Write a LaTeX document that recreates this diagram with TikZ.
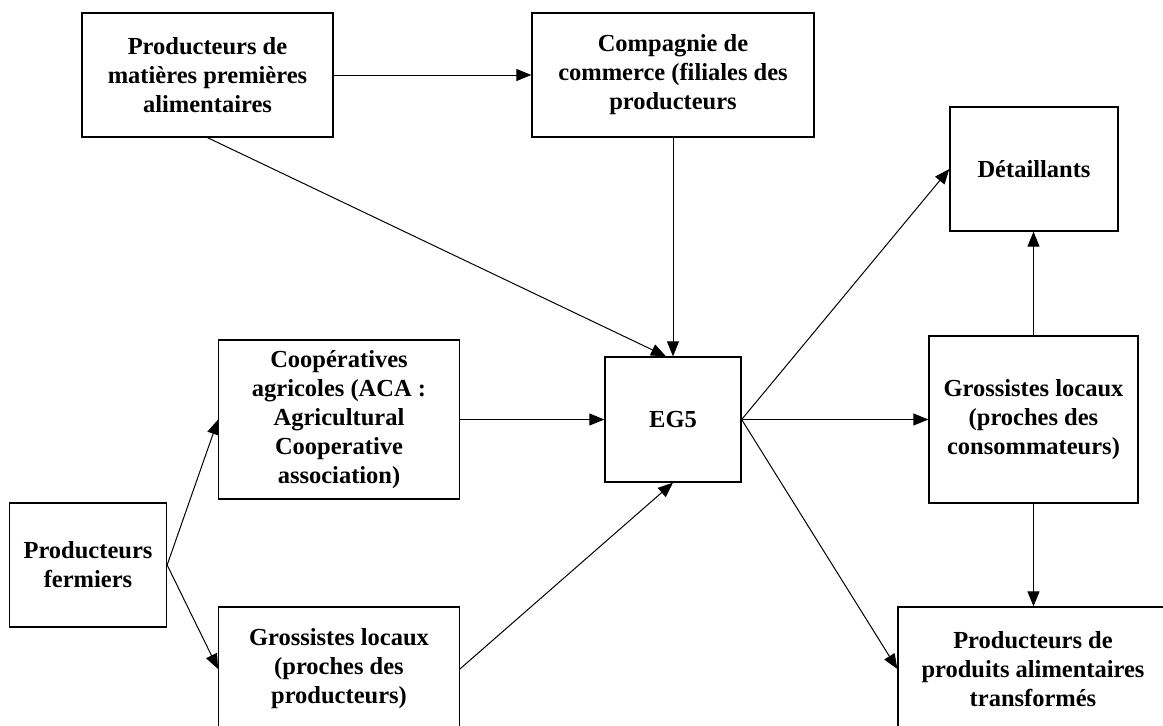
\documentclass[tikz,border=0pt]{standalone}
\usepackage{fontspec}
\setmainfont{Liberation Serif}
\usetikzlibrary{arrows.meta}
\begin{document}
\begin{tikzpicture}[
    x=1pt, y=-1pt,
    >={Triangle[length=15pt,width=12pt]},
    line width=1pt,
    every node/.style={rectangle, draw, line width=1.3pt, align=center, inner sep=0pt,
                       font=\fontsize{24.5}{29}\selectfont\bfseries}
]
  \useasboundingbox (0,0) rectangle (1163,726);
  % boxes (placed to match the screenshot)
  \node[minimum width=251pt, minimum height=124pt]   (M)    at (207.5,75)   {Producteurs de\\matières premières\\alimentaires};
  \node[minimum width=282pt, minimum height=124pt]   (C)    at (673,75)     {Compagnie de\\commerce (filiales des\\producteurs};
  \node[minimum width=168pt, minimum height=124pt]   (D)    at (1034,169)   {Détaillants};
  \node[minimum width=240.5pt, minimum height=159pt] (Coop) at (339,419.5)  {Coopératives\\agricoles (ACA :\\Agricultural\\Cooperative\\association)};
  \node[minimum width=136pt, minimum height=125pt]   (E)    at (673,419.5)  {EG5};
  \node[minimum width=209pt, minimum height=167pt]   (GC)   at (1033.5,419.5) {Grossistes locaux\\(proches des\\consommateurs)};
  \node[minimum width=157pt, minimum height=124pt]   (F)    at (88,565)     {Producteurs\\fermiers};
  \node[minimum width=240.5pt, minimum height=124pt] (GP)   at (339,669)    {Grossistes locaux\\(proches des\\producteurs)};
  \node[minimum width=270pt, minimum height=124pt]   (P)    at (1033,669)   {Producteurs de\\produits alimentaires\\transformés};

  % edges
  \draw[->] (M) -- (C);
  \draw[->] (M.south) -- ([xshift=-7pt]E.north);
  \draw[->] (C) -- (E);
  \draw[->] (F.east) -- (Coop.west);
  \draw[->] (F.east) -- (GP.west);
  \draw[->] (Coop) -- (E);
  \draw[->] (GP.east) -- (E.south);
  \draw[->] (E.east) -- (D.west);
  \draw[->] (E) -- (GC);
  \draw[->] (E.east) -- (P.west);
  \draw[->] (GC.north) -- (GC.north |- D.south);
  \draw[->] (GC.south) -- (GC.south |- P.north);
\end{tikzpicture}
\end{document}
